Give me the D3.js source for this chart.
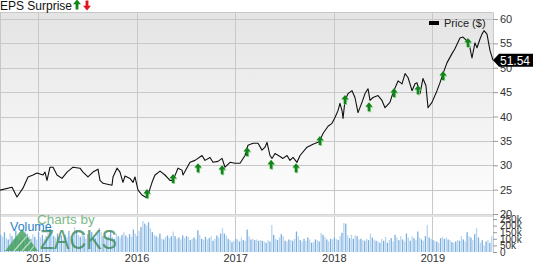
<!DOCTYPE html>
<html>
<head>
<meta charset="utf-8">
<script src="https://cdn.jsdelivr.net/npm/d3@7"></script>
<style>
  html, body { margin: 0; padding: 0; background: #fff; }
  svg { display: block; font-family: "Liberation Sans", Arial, sans-serif; }
</style>
</head>
<body>
<div id="chart"></div>
<script>
// Precio semanal (año decimal, precio en $)
const priceDates = [
  2014.615, 2014.737, 2014.787, 2014.848, 2014.899, 2014.950, 2014.990, 2015.051, 2015.071, 2015.092,
  2015.122, 2015.153, 2015.193, 2015.244, 2015.295, 2015.355, 2015.426, 2015.457, 2015.507, 2015.558,
  2015.609, 2015.629, 2015.660, 2015.751, 2015.761, 2015.802, 2015.832, 2015.862, 2015.883, 2015.933,
  2015.964, 2015.984, 2016.015, 2016.055, 2016.106, 2016.157, 2016.187, 2016.238, 2016.288, 2016.339,
  2016.370, 2016.420, 2016.461, 2016.471, 2016.542, 2016.593, 2016.664, 2016.694, 2016.745, 2016.775,
  2016.826, 2016.867, 2016.897, 2016.948, 2016.998, 2017.049, 2017.100, 2017.130, 2017.181, 2017.232,
  2017.272, 2017.303, 2017.323, 2017.353, 2017.374, 2017.404, 2017.455, 2017.485, 2017.526, 2017.556,
  2017.587, 2017.627, 2017.658, 2017.729, 2017.789, 2017.840, 2017.860, 2017.891, 2017.942, 2017.982,
  2018.013, 2018.043, 2018.063, 2018.084, 2018.094, 2018.114, 2018.145, 2018.185, 2018.215, 2018.246,
  2018.286, 2018.317, 2018.347, 2018.368, 2018.398, 2018.449, 2018.489, 2018.520, 2018.570, 2018.601,
  2018.652, 2018.692, 2018.723, 2018.753, 2018.794, 2018.824, 2018.844, 2018.875, 2018.905, 2018.935,
  2018.956, 2018.996, 2019.047, 2019.077, 2019.108, 2019.148, 2019.199, 2019.229, 2019.280, 2019.311,
  2019.351, 2019.371, 2019.402, 2019.432, 2019.453, 2019.483, 2019.503, 2019.524, 2019.554, 2019.585,
  2019.615
];
const prices = [
  24.9, 25.5, 23.5, 25.3, 27.6, 28.0, 28.4, 28.0, 28.6, 26.9,
  29.6, 29.6, 28.0, 27.3, 28.6, 29.6, 29.4, 28.6, 27.6, 28.6,
  29.2, 26.9, 26.3, 25.9, 27.6, 29.4, 28.6, 26.5, 27.8, 27.3,
  26.5, 27.6, 24.9, 23.9, 23.3, 26.5, 28.0, 28.8, 28.0, 26.9,
  26.9, 29.4, 29.0, 28.0, 30.6, 31.0, 32.0, 31.0, 31.6, 30.6,
  30.8, 31.4, 29.6, 30.6, 30.4, 30.4, 32.0, 34.1, 34.5, 34.5,
  33.1, 33.7, 34.7, 32.0, 31.4, 32.4, 31.8, 31.4, 32.0, 31.0,
  31.6, 30.6, 32.0, 33.7, 34.3, 34.7, 35.1, 36.5, 38.0, 38.6,
  39.8, 41.2, 42.7, 41.2, 39.6, 43.3, 44.7, 45.3, 43.9, 40.8,
  42.9, 44.7, 45.7, 43.3, 43.9, 44.3, 43.3, 41.8, 42.9, 44.9,
  47.3, 46.7, 48.8, 48.0, 45.3, 46.7, 46.9, 44.7, 47.8, 46.3,
  41.8, 42.9, 45.3, 46.9, 48.8, 51.0, 52.9, 53.9, 56.1, 56.3,
  55.5, 55.1, 52.0, 55.1, 54.1, 55.9, 56.9, 57.6, 56.9, 53.5,
  51.54
];

// Sorpresas de BPA (todas positivas)
const surpriseDates = [2016.106, 2016.370, 2016.623, 2016.867, 2017.120, 2017.364, 2017.617,
                       2017.860, 2018.114, 2018.357, 2018.611, 2018.854, 2019.108, 2019.361];
const surpriseLevels = [24.1, 27.2, 29.4, 29.0, 32.7, 30.1, 29.4, 35.0, 43.4, 41.9, 44.8, 45.4, 48.3, 55.1];

// Volumen semanal (miles), desde la semana de inicio
const volumeStart = 2014.615;
const volumes = [
  130, 115, 150, 105, 95, 140, 120, 100, 160, 110, 90, 125, 105,
  170, 140, 120, 100, 135, 115, 95, 150, 110, 130, 100, 120, 145,
  175, 150, 120, 110, 140, 105, 125, 95, 130, 115, 160, 120, 100,
  190, 165, 130, 115, 145, 120, 100, 135, 110, 150, 125, 105, 140,
  180, 150, 120, 135, 105, 125, 160, 115, 100, 140, 120, 110, 130,
  150, 125, 110, 135, 115, 170, 140, 120, 160, 190, 235, 215, 200,
  225, 180, 150, 130, 120, 110, 140, 100, 95, 115, 125, 105, 120,
  155, 120, 100, 110, 95, 125, 105, 120, 115, 90, 100, 110, 95,
  165, 130, 100, 90, 115, 95, 105, 120, 85, 100, 125, 110, 140,
  180, 140, 125, 100, 90, 75, 85, 100, 95, 80, 110, 90, 85,
  170, 120, 95, 100, 90, 95, 85, 90, 85, 80, 70, 90, 80,
  205, 130, 100, 90, 110, 135, 120, 85, 80, 95, 90, 85, 100,
  155, 120, 90, 80, 100, 85, 110, 95, 70, 75, 95, 90, 80,
  145, 130, 115, 95, 80, 100, 95, 110, 100, 90, 120, 145, 220,
  215, 125, 105, 130, 100, 125, 120, 95, 100, 90, 85, 100, 90,
  140, 110, 95, 85, 80, 70, 100, 85, 115, 70, 90, 105, 80,
  130, 110, 90, 120, 95, 80, 140, 110, 85, 120, 105, 90, 155,
  110, 95, 85, 120, 205, 110, 100, 90, 85, 80, 70, 105, 115,
  100, 110, 95, 90, 75, 70, 80, 90, 85, 120, 95, 80, 150,
  120, 110, 90, 135, 180, 110, 70, 90, 50, 80, 90, 70, 120
];

const yearTicks = [2015, 2016, 2017, 2018, 2019];
const priceTicks = [20, 25, 30, 35, 40, 45, 50, 55, 60];
const volumeTicks = [0, 50, 100, 150, 200, 250];

// Dimensiones
const W = 533, H = 262;
const plotRight = 493;
const priceTop = 12.5, priceBottom = 214;
const volTop = 216, volBottom = 252;

const svg = d3.select("#chart").append("svg")
  .attr("width", W)
  .attr("height", H);

const defs = svg.append("defs");
const grad = defs.append("linearGradient")
  .attr("id", "bg").attr("x1", 0).attr("y1", 0).attr("x2", 0).attr("y2", 1);
grad.append("stop").attr("offset", "0%").attr("stop-color", "#e4e4e4");
grad.append("stop").attr("offset", "100%").attr("stop-color", "#ffffff");

// Escalas
const x = d3.scaleLinear().domain([2014.615, 2019.615]).range([0, plotRight]);
const yPrice = d3.scaleLinear().domain([20, 60]).range([priceBottom, 19]);
const yVol = d3.scaleLinear().domain([0, 250]).range([volBottom, 219]);

// Fondo del panel de precio
svg.append("rect")
  .attr("x", 0.5).attr("y", priceTop)
  .attr("width", plotRight - 0.5).attr("height", priceBottom - priceTop)
  .attr("fill", "url(#bg)");

// Rejilla horizontal
svg.append("g").selectAll("line")
  .data(priceTicks)
  .join("line")
  .attr("x1", 0).attr("x2", plotRight)
  .attr("y1", d => Math.round(yPrice(d)) + 0.5)
  .attr("y2", d => Math.round(yPrice(d)) + 0.5)
  .attr("stroke", "#c8c8c8");

// Rejilla vertical (años)
svg.append("g").selectAll("line")
  .data(yearTicks)
  .join("line")
  .attr("x1", d => Math.round(x(d)) + 0.5)
  .attr("x2", d => Math.round(x(d)) + 0.5)
  .attr("y1", priceTop).attr("y2", volBottom)
  .attr("stroke", "#c8c8c8");

// Bordes
svg.append("line").attr("x1", 0).attr("x2", plotRight).attr("y1", priceTop).attr("y2", priceTop).attr("stroke", "#c8c8c8");
svg.append("rect").attr("x", 0).attr("y", 214.5).attr("width", plotRight).attr("height", 2.5).attr("fill", "#e2e2e2");
svg.append("line").attr("x1", 0.5).attr("x2", 0.5).attr("y1", priceTop).attr("y2", volBottom).attr("stroke", "#c8c8c8");
svg.append("line").attr("x1", plotRight + 0.5).attr("x2", plotRight + 0.5).attr("y1", priceTop).attr("y2", volBottom).attr("stroke", "#c8c8c8");

// Barras de volumen
svg.append("g").selectAll("rect")
  .data(volumes)
  .join("rect")
  .attr("x", (d, i) => x(volumeStart + i / 52))
  .attr("y", d => yVol(d))
  .attr("width", 1.3)
  .attr("height", d => volBottom - yVol(d))
  .attr("fill", (d, i) => i % 2 ? "#b7d5f0" : "#79aede");

// Marca de agua
const wm = svg.append("g");
wm.append("path")
  .attr("d", "M5,251 L22,229 L38,251 Z")
  .attr("fill", "#3f9e55").attr("opacity", 0.8);
wm.append("path")
  .attr("d", "M14,251 L27,236 M22,251 L31,241 M30,251 L34,246")
  .attr("stroke", "#ffffff").attr("stroke-width", 1.2).attr("opacity", 0.6);
wm.append("text")
  .attr("x", 37).attr("y", 224)
  .attr("font-size", 13.5).attr("fill", "#6db27a").attr("opacity", 0.9)
  .text("Charts by");
wm.append("text")
  .attr("x", 40).attr("y", 249)
  .attr("font-size", 28).attr("fill", "#3a8a5a").attr("opacity", 0.8)
  .attr("textLength", 77).attr("lengthAdjust", "spacingAndGlyphs")
  .text("ZACKS");
wm.append("text")
  .attr("x", 10).attr("y", 231)
  .attr("font-size", 12.5).attr("fill", "#2b7fc3")
  .text("Volume");

// Línea de precio
const line = d3.line()
  .x((d, i) => x(priceDates[i]))
  .y(d => yPrice(d));
svg.append("path")
  .datum(prices)
  .attr("d", line)
  .attr("fill", "none")
  .attr("stroke", "#111")
  .attr("stroke-width", 1.1)
  .attr("stroke-linejoin", "round");

// Flechas de sorpresa
const arrowPath = "M0,-5 L3.6,-0.6 L1.3,-0.6 L1.3,4 L-1.3,4 L-1.3,-0.6 L-3.6,-0.6 Z";
const arrows = svg.append("g").selectAll("g")
  .data(surpriseLevels)
  .join("g")
  .attr("transform", (d, i) => `translate(${x(surpriseDates[i])},${yPrice(d)})`);
arrows.append("path").attr("d", arrowPath).attr("fill", "#8fd48f").attr("transform", "translate(0.8,1)");
arrows.append("path").attr("d", arrowPath).attr("fill", "#11841a");

// Eje derecho de precio
const priceAxis = svg.append("g")
  .attr("transform", `translate(${plotRight},0)`)
  .call(d3.axisRight(yPrice).tickValues(priceTicks).tickSize(5).tickPadding(2));
priceAxis.select(".domain").remove();
priceAxis.selectAll("line").attr("stroke", "#999");
priceAxis.selectAll("text").attr("font-size", 11).attr("fill", "#333").attr("font-family", null);

// Eje derecho de volumen
const volAxis = svg.append("g")
  .attr("transform", `translate(${plotRight},0)`)
  .call(d3.axisRight(yVol).tickValues(volumeTicks).tickSize(4).tickPadding(3)
    .tickFormat(d => d === 0 ? "0" : d + "k"));
volAxis.select(".domain").remove();
volAxis.selectAll("line").attr("stroke", "#999");
volAxis.selectAll("text").attr("font-size", 10).attr("fill", "#333").attr("font-family", null);

// Eje inferior de años
const xAxis = svg.append("g")
  .attr("transform", `translate(0,${volBottom})`)
  .call(d3.axisBottom(x).tickValues(yearTicks).tickFormat(d3.format("d")).tickSize(0).tickPadding(2));
xAxis.select(".domain").remove();
xAxis.selectAll("text").attr("font-size", 11).attr("fill", "#333").attr("font-family", null);

// Etiqueta del último precio
const last = prices[prices.length - 1];
const ly = yPrice(last);
svg.append("path")
  .attr("d", `M${plotRight},${ly} L${plotRight + 6},${ly - 6.5} L533,${ly - 6.5} L533,${ly + 6.5} L${plotRight + 6},${ly + 6.5} Z`)
  .attr("fill", "#000");
svg.append("text")
  .attr("x", 515).attr("y", ly + 4.5)
  .attr("text-anchor", "middle")
  .attr("font-size", 12).attr("fill", "#fff")
  .text(last.toFixed(2));

// Leyenda
svg.append("rect").attr("x", 429).attr("y", 21).attr("width", 10).attr("height", 4).attr("fill", "#000");
svg.append("text").attr("x", 444).attr("y", 27).attr("font-size", 11).attr("fill", "#222").text("Price ($)");

// Título EPS Surprise
svg.append("text").attr("x", 0).attr("y", 10).attr("font-size", 12).attr("fill", "#111").text("EPS Surprise");
svg.append("path").attr("d", arrowPath).attr("fill", "#11841a").attr("transform", "translate(77,5) scale(1.1)");
svg.append("path").attr("d", arrowPath).attr("fill", "#e0141a").attr("transform", "translate(87,5) rotate(180) scale(1.1)");
</script>
</body>
</html>
